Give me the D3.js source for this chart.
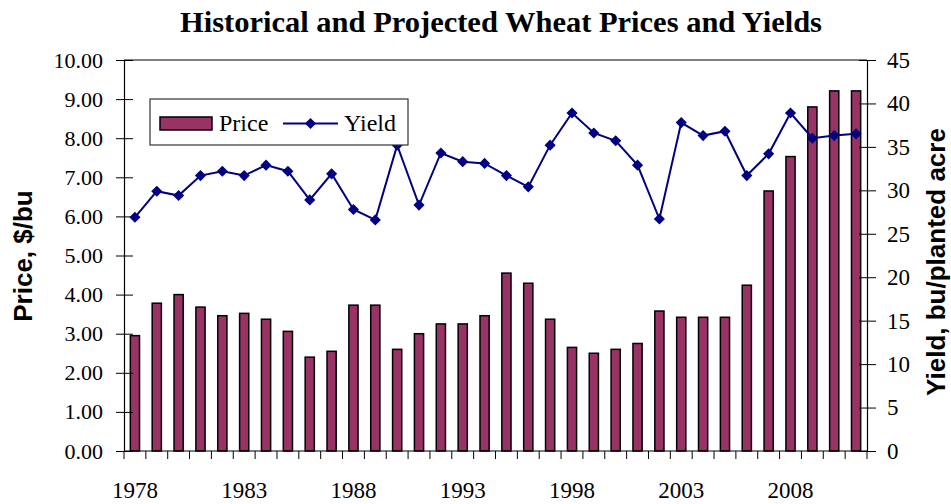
<html>
  <head>
    <style>
body { margin: 0; background: white; }
text { fill: black; }
    </style>
    <script src="https://d3js.org/d3.v7.min.js"></script>
  </head>
  <body>
    <div id="viz"></div>
    <script>

// data
var years = d3.range(1978, 2012);
var price = [2.95, 3.78, 4.00, 3.68, 3.46, 3.52, 3.37, 3.06, 2.40, 2.55,
             3.73, 3.73, 2.60, 3.00, 3.25, 3.25, 3.46, 4.55, 4.29, 3.37,
             2.65, 2.50, 2.60, 2.75, 3.58, 3.42, 3.42, 3.42, 4.24, 6.65,
             7.53, 8.80, 9.21, 9.21];
var yieldVals = [26.9, 29.9, 29.4, 31.7, 32.2, 31.7, 32.9, 32.2, 28.9, 31.9,
                 27.8, 26.6, 35.2, 28.3, 34.3, 33.3, 33.1, 31.7, 30.4, 35.2,
                 38.9, 36.6, 35.7, 32.9, 26.7, 37.8, 36.3, 36.8, 31.7, 34.2,
                 38.9, 36.0, 36.3, 36.5];
var priceTicks = d3.range(0, 10.01, 1);
var yieldTicks = d3.range(0, 46, 5);
var yearLabels = [1978, 1983, 1988, 1993, 1998, 2003, 2008];

var width = 951, height = 504;
// plot box (don't call it "top", that's window.top)
var pLeft = 124, pRight = 867, pTop = 60, pBottom = 451;

var barColor = '#993366', lineColor = '#000080';
var serif = '"Liberation Serif", "Times New Roman", serif';
var sans = '"Liberation Sans", Arial, sans-serif';

var svg = d3.select('#viz')
    .append('svg')
    .attr('width', width)
    .attr('height', height);

var x = d3.scaleBand()
    .domain(years)
    .range([pLeft, pRight])
    .paddingInner(0.58)
    .paddingOuter(0.29);

var yP = d3.scaleLinear().domain([0, 10]).range([pBottom, pTop]);
var yY = d3.scaleLinear().domain([0, 45]).range([pBottom, pTop]);

// top border
svg.append('line')
    .attr('x1', pLeft).attr('x2', pRight)
    .attr('y1', pTop).attr('y2', pTop)
    .attr('stroke', 'black').attr('stroke-width', 1);

// bars
svg.append('g')
  .selectAll('rect')
  .data(years)
  .enter().append('rect')
    .attr('x', function(d) { return x(d); })
    .attr('y', function(d, i) { return yP(price[i]); })
    .attr('width', x.bandwidth())
    .attr('height', function(d, i) { return pBottom - yP(price[i]); })
    .attr('fill', barColor)
    .attr('stroke', 'black')
    .attr('stroke-width', 1.5);

// left axis
var gL = svg.append('g')
    .attr('transform', 'translate(' + pLeft + ',0)')
    .call(d3.axisLeft(yP).tickValues(priceTicks).tickFormat(d3.format('.2f')).tickSize(8).tickSizeOuter(0).tickPadding(13));
gL.selectAll('.tick line').attr('x1', 9);
gL.selectAll('.tick text')
    .style('font-family', serif)
    .style('font-size', '22px');

// right axis
var gR = svg.append('g')
    .attr('transform', 'translate(' + pRight + ',0)')
    .call(d3.axisRight(yY).tickValues(yieldTicks).tickSize(9).tickSizeOuter(0).tickPadding(11));
gR.selectAll('.tick line').attr('x1', -8);
gR.selectAll('.tick text')
    .style('font-family', serif)
    .style('font-size', '23px');

svg.selectAll('.domain').attr('stroke', 'black').attr('stroke-width', 1.2);

// x axis: baseline, ticks between categories, labels every 5 yrs
svg.append('line')
    .attr('x1', pLeft).attr('x2', pRight)
    .attr('y1', pBottom).attr('y2', pBottom)
    .attr('stroke', 'black').attr('stroke-width', 1.2);

svg.append('g')
  .selectAll('line')
  .data(years.concat([years[years.length - 1] + 1]))
  .enter().append('line')
    .attr('x1', function(d, i) { return pLeft + x.step() * i; })
    .attr('x2', function(d, i) { return pLeft + x.step() * i; })
    .attr('y1', pBottom)
    .attr('y2', pBottom + 8)
    .attr('stroke', 'black');

svg.append('g')
  .selectAll('text')
  .data(yearLabels)
  .enter().append('text')
    .attr('x', function(d) { return x(d) + x.bandwidth() / 2; })
    .attr('y', 498)
    .attr('text-anchor', 'middle')
    .style('font-family', serif)
    .style('font-size', '23px')
    .text(function(d) { return d; });

// yield line
var line = d3.line()
    .x(function(d) { return x(d) + x.bandwidth() / 2; })
    .y(function(d, i) { return yY(yieldVals[i]); });

svg.append('path')
    .datum(years)
    .attr('d', line)
    .attr('fill', 'none')
    .attr('stroke', lineColor)
    .attr('stroke-width', 2);

var diamond = d3.symbol().type(d3.symbolSquare).size(62);

svg.append('g')
  .selectAll('path')
  .data(years)
  .enter().append('path')
    .attr('d', diamond)
    .attr('transform', function(d, i) {
      return 'translate(' + (x(d) + x.bandwidth() / 2) + ',' + yY(yieldVals[i]) + ') rotate(45)';
    })
    .attr('fill', lineColor);

// title
svg.append('text')
    .attr('x', 501)
    .attr('y', 32)
    .attr('text-anchor', 'middle')
    .attr('textLength', 642)
    .attr('lengthAdjust', 'spacingAndGlyphs')
    .style('font-family', serif)
    .style('font-weight', 'bold')
    .style('font-size', '30px')
    .text('Historical and Projected Wheat Prices and Yields');

// axis titles
svg.append('text')
    .attr('transform', 'translate(32,256) rotate(-90)')
    .attr('text-anchor', 'middle')
    .style('font-family', sans)
    .style('font-weight', 'bold')
    .style('font-size', '26px')
    .text('Price, $/bu');

svg.append('text')
    .attr('transform', 'translate(945,262) rotate(-90)')
    .attr('text-anchor', 'middle')
    .style('font-family', sans)
    .style('font-weight', 'bold')
    .style('font-size', '26px')
    .text('Yield, bu/planted acre');

// legend
var legend = svg.append('g');
legend.append('rect')
    .attr('x', 150).attr('y', 99)
    .attr('width', 258).attr('height', 46)
    .attr('fill', 'white')
    .attr('stroke', '#333').attr('stroke-width', 1.2);
legend.append('rect')
    .attr('x', 160).attr('y', 117)
    .attr('width', 52).attr('height', 13)
    .attr('fill', barColor)
    .attr('stroke', 'black').attr('stroke-width', 1.5);
legend.append('text')
    .attr('x', 219).attr('y', 131)
    .style('font-family', serif)
    .style('font-size', '24px')
    .text('Price');
legend.append('line')
    .attr('x1', 283).attr('x2', 338)
    .attr('y1', 123.5).attr('y2', 123.5)
    .attr('stroke', lineColor).attr('stroke-width', 2);
legend.append('path')
    .attr('d', diamond)
    .attr('transform', 'translate(310.5,123.5) rotate(45)')
    .attr('fill', lineColor);
legend.append('text')
    .attr('x', 344).attr('y', 131)
    .style('font-family', serif)
    .style('font-size', '24px')
    .text('Yield');

    </script>
  </body>
</html>
